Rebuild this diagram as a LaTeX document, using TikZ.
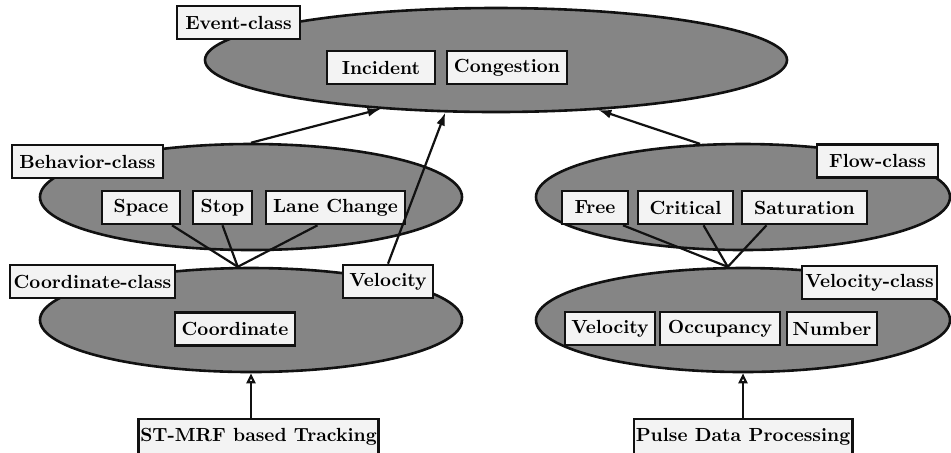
\documentclass[tikz,border=0pt]{standalone}
\usetikzlibrary{arrows.meta,positioning,calc,shapes.geometric}
\usepackage{xcolor}
\definecolor{Ink}{HTML}{111111}
\definecolor{Stipple}{HTML}{858585}
\definecolor{Paper}{HTML}{F3F3F3}
\newcommand{\ClassBox}[6][]{%
  \node[box,minimum width=0.5*#5pt,#1] (#2) at (#3,#4) {#6};%
}

\begin{document}
\begin{tikzpicture}[x=0.5pt,y=-0.5pt,
  box/.style={draw=Ink,line width=1.3pt,fill=Paper,inner sep=1pt,minimum height=16.5pt,
    font=\bfseries\fontsize{9.5}{11}\selectfont},
  oval/.style={ellipse,draw=Ink,line width=1.3pt,fill=Stipple,inner sep=0pt},
  link/.style={Ink,line width=1.1pt},
  up/.style={link,-{Latex[length=6.5pt,width=4.5pt]}},
  feed/.style={link,-{Triangle[open,length=5pt,width=4.5pt]}}]
\useasboundingbox (0,0) rectangle (951,452);
% class ovals
\node[oval,minimum width=291pt,minimum height=52pt] (evt) at (496,60) {};
\node[oval,minimum width=211pt,minimum height=53pt] (beh) at (251,197) {};
\node[oval,minimum width=207pt,minimum height=53pt] (flw) at (743,197) {};
\node[oval,minimum width=211pt,minimum height=52pt] (crd) at (251,320) {};
\node[oval,minimum width=207pt,minimum height=52pt] (vel) at (743,320) {};
% event class
\ClassBox{evtlab}{238.5}{22.5}{123}{Event-class}
\ClassBox{inc}{381}{67.5}{108}{Incident}
\ClassBox{cng}{507}{67.5}{120}{Congestion}
% behavior class
\ClassBox{behlab}{87.5}{161.5}{151}{Behavior-class}
\ClassBox{spc}{141}{207.5}{78}{Space}
\ClassBox{stp}{222.5}{207.5}{59}{Stop}
\ClassBox{lane}{335.5}{207.5}{139}{Lane Change}
% flow class
\ClassBox{flwlab}{877.5}{161}{121}{Flow-class}
\ClassBox{free}{595}{207.5}{66}{Free}
\ClassBox{crit}{685.5}{207.5}{95}{Critical}
\ClassBox{sat}{804.5}{207.5}{125}{Saturation}
% coordinate class
\ClassBox{crdlab}{92.5}{281.5}{165}{Coordinate-class}
\ClassBox{velL}{388}{281.5}{90}{Velocity}
\ClassBox{crdv}{235}{329}{120}{Coordinate}
% velocity class
\ClassBox{vellab}{869.5}{282.5}{135}{Velocity-class}
\ClassBox{velR}{610}{328.5}{90}{Velocity}
\ClassBox{occ}{720}{328.5}{120}{Occupancy}
\ClassBox{num}{832}{328.5}{90}{Number}
% sources
\ClassBox[minimum height=18pt]{stmrf}{258.5}{437}{227}{ST-MRF based Tracking}
\ClassBox[minimum height=18pt]{pulse}{743}{437}{210}{Pulse Data Processing}
% links
\coordinate (crdtop) at (crd.104);
\coordinate (veltop) at (vel.106);
\draw[link] ([xshift=15.5pt]spc.south) -- (crdtop);
\draw[link] (stp.south) -- (crdtop);
\draw[link] ([xshift=-9pt]lane.south) -- (crdtop);
\draw[link] ([xshift=14pt]free.south) -- (veltop);
\draw[link] ([xshift=9pt]crit.south) -- (veltop);
\draw[link] ([xshift=-19pt]sat.south) -- (veltop);
\draw[up] (beh.north) -- (evt.203);
\draw[up] (velL.north) -- (evt.226);
\draw[up] (flw.129) -- (evt.334.5);
\draw[feed] (stmrf.north -| crd.south) -- (crd.south);
\draw[feed] (pulse.north) -- (vel.south);
\end{tikzpicture}
\end{document}
